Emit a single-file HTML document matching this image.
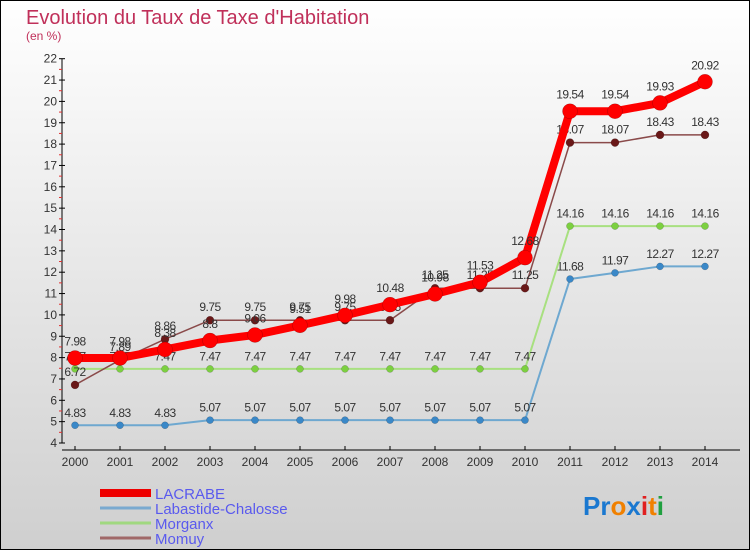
<!DOCTYPE html>
<html><head><meta charset="utf-8"><style>
body{margin:0}
svg{display:block;font-family:"Liberation Sans",sans-serif}
</style></head><body>
<svg id="c" width="750" height="550" viewBox="0 0 750 550">
<defs><linearGradient id="bg" x1="0" y1="0" x2="0" y2="1"><stop offset="0" stop-color="#ffffff"/><stop offset="1" stop-color="#cfcfcf"/></linearGradient></defs>
<rect x="0.5" y="0.5" width="749" height="549" fill="url(#bg)" stroke="#000"/>
<text x="26" y="24" font-size="20" fill="#c0305a">Evolution du Taux de Taxe d'Habitation</text>
<text x="26" y="40" font-size="12" fill="#c0305a">(en %)</text>
<g id="axes"></g>
<g id="series"></g>
<g id="legend"></g>
<text x="583" y="515" font-size="26" font-weight="bold"><tspan fill="#1a78d0">Pr</tspan><tspan fill="#f08000">o</tspan><tspan fill="#1a78d0">x</tspan><tspan fill="#e02020">i</tspan><tspan fill="#f08000">t</tspan><tspan fill="#20a040">i</tspan></text>
</svg>
<script>
const years=[2000,2001,2002,2003,2004,2005,2006,2007,2008,2009,2010,2011,2012,2013,2014];
const lacrabe=[7.98,7.98,8.38,8.8,9.06,9.51,9.98,10.48,10.98,11.53,12.68,19.54,19.54,19.93,20.92];
const labastide=[4.83,4.83,4.83,5.07,5.07,5.07,5.07,5.07,5.07,5.07,5.07,11.68,11.97,12.27,12.27];
const morganx=[7.47,7.47,7.47,7.47,7.47,7.47,7.47,7.47,7.47,7.47,7.47,14.16,14.16,14.16,14.16];
const momuy=[6.72,7.89,8.86,9.75,9.75,9.75,9.75,9.75,11.25,11.25,11.25,18.07,18.07,18.43,18.43];
const yTicks=[4,5,6,7,8,9,10,11,12,13,14,15,16,17,18,19,20,21,22];
const seriesNames=["LACRABE","Labastide-Chalosse","Morganx","Momuy"];
const NS="http://www.w3.org/2000/svg";
const X=i=>75+45*i;
const Y=v=>443-(v-4)*21.35;
function mk(p,t,a){const e=document.createElementNS(NS,t);for(const k in a)e.setAttribute(k,a[k]);p.appendChild(e);return e;}
const ax=document.getElementById('axes');
let e=mk(ax,'line',{x1:62,y1:Y(22),x2:62,y2:Y(4),stroke:'#000'});


e=mk(ax,'line',{x1:62,y1:450,x2:740,y2:450,stroke:'#000'});


yTicks.forEach(v=>{
 mk(ax,'line',{x1:59,y1:Y(v),x2:65,y2:Y(v),stroke:'#000'});
 if(v<22) mk(ax,'line',{x1:59,y1:Y(v+0.5),x2:62,y2:Y(v+0.5),stroke:'#e03030'});
 const t=mk(ax,'text',{x:57,y:Y(v)+4,'font-size':12,'text-anchor':'end',fill:'#333'});
 t.textContent=v;
 
 
});
years.forEach((yr,i)=>{
 mk(ax,'line',{x1:X(i),y1:446,x2:X(i),y2:450,stroke:'#000'});
 const t=mk(ax,'text',{x:X(i),y:466,'font-size':12,'text-anchor':'middle',fill:'#333'});
 t.textContent=yr;
 
 
});
const sg=document.getElementById('series');
function draw(vals,color,w,r,mcol,name){
 const g=mk(sg,'g',{});
 
 
 mk(g,'polyline',{points:vals.map((v,i)=>X(i)+','+Y(v)).join(' '),fill:'none',stroke:color,'stroke-width':w,'stroke-linejoin':'round'});
 vals.forEach((v,i)=>{
  const c=mk(g,'circle',{cx:X(i),cy:Y(v),r:r,fill:mcol,stroke:'rgba(0,0,0,0.3)','stroke-width':0.5});
  
  
  const t=mk(g,'text',{x:X(i),y:Y(v)-r-5,'font-size':12,'text-anchor':'middle',fill:'#333','letter-spacing':'-0.5'});
  t.textContent=v.toFixed(2).replace(/0$/,'').replace(/\.$/,'');
  
  
 });
}
draw(labastide,'#6ea8d0',2,3.5,'#3a88c8','series-labastide');
draw(morganx,'#a8e080',2,3.5,'#7cd040','series-morganx');
draw(momuy,'#8a4a4a',1.5,4,'#6a1818','series-momuy');
draw(lacrabe,'#ff0000',8,7.5,'#ff0000','series-lacrabe');
const lg=document.getElementById('legend');
const lcol=['#ee0000','#7aaad0','#a0d880','#a06868'],lw=[8,3,3,3];
seriesNames.forEach((n,i)=>{
 const y=493+i*15;
 const g=mk(lg,'g',{});
 
 
 mk(g,'line',{x1:100,y1:y,x2:151,y2:y,stroke:lcol[i],'stroke-width':lw[i]});
 const t=mk(g,'text',{x:155,y:y+6,'font-size':15,fill:'#5a5aee'});
 t.textContent=n;
});
</script>
</body></html>
